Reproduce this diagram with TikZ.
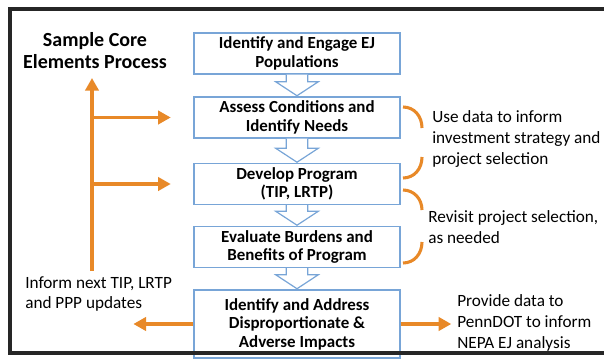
\documentclass[tikz,border=0pt]{standalone}
\usepackage{fontspec}
\setmainfont{Carlito}
\usetikzlibrary{positioning,calc,arrows.meta}
\definecolor{orng}{RGB}{232,137,40}
\definecolor{boxblue}{RGB}{120,165,215}

\begin{document}
\begin{tikzpicture}[x=0.75pt, y=-0.75pt,
    core/.style={draw=boxblue, line width=0.9pt, fill=white, align=center,
        font=\bfseries\fontsize{12.7}{13.8}\selectfont,
        minimum width=154.5pt, minimum height=30.75pt, inner sep=0pt},
    note/.style={anchor=west, align=left, inner sep=0pt,
        font=\fontsize{12.9}{15.5}\selectfont},
    feed/.style={orng, line width=2.3pt, -{Triangle[length=9.5pt,width=10pt]}},
    bracket/.style={orng, line width=2.3pt},
    chev/.style={draw=boxblue, line width=0.9pt, fill=white}]
    \useasboundingbox (0,0) rectangle (604,358);
    \clip (0,0) rectangle (604,358);

    \node[align=center, font=\bfseries\fontsize{15}{16.5}\selectfont] at (95,51) (title) {Sample Core\\Elements Process};

    \node[core] at (297,53.5) (engage) {Identify and Engage EJ\\Populations};
    \node[core] at (297,117.5) (assess) {Assess Conditions and\\Identify Needs};
    \node[core] at (297,184) (develop) {Develop Program\\(TIP, LRTP)};
    \node[core] at (297,247) (evaluate) {Evaluate Burdens and\\Benefits of Program};
    \node[core, minimum height=51pt] at (297,324) (impacts) {Identify and Address\\Disproportionate \&\\Adverse Impacts};

    \foreach \a/\b in {engage/assess, assess/develop, develop/evaluate, evaluate/impacts}
        \draw[chev] let \p1=(\a.south), \p2=(\b.north) in
            (\x1-8pt,\y1) -- (\x1-8pt,\y2+11pt) -- (\x1-16pt,\y2+11pt) -- (\x1,\y2+0.5pt)
            -- (\x1+16pt,\y2+11pt) -- (\x1+8pt,\y2+11pt) -- (\x1+8pt,\y1);

    % feedback to earlier steps
    \coordinate (fbbot) at (92,271);
    \coordinate (fbtop) at (92,78);
    \coordinate[left=17pt of assess] (tipA);
    \coordinate[left=17pt of develop] (tipB);
    \draw[feed] (fbbot) -- (fbtop);
    \draw[feed] (fbtop |- tipA) -- (tipA);
    \draw[feed] (fbtop |- tipB) -- (tipB);

    \coordinate[left=45pt of impacts] (tipL);
    \coordinate[right=38pt of impacts] (tipR);
    \draw[feed] (impacts.west) -- (tipL);
    \draw[feed] (impacts.east) -- (tipR);

    \draw[bracket] (403,107) .. controls (414,107) and (422,116) .. (422,128);
    \draw[bracket] (422,157) .. controls (422,169) and (414,178) .. (403,178);
    \draw[bracket] (403,190) .. controls (414,190) and (422,199) .. (422,210);
    \draw[bracket] (422,242) .. controls (422,254) and (414,263) .. (403,263);

    \node[note] at (432,139) (usedata) {Use data to inform\\investment strategy and\\project selection};
    \node[note] at (428,227) (revisit) {Revisit project selection,\\as needed};
    \node[note] at (25,294) (inform) {Inform next TIP, LRTP\\and PPP updates};
    \node[note] at (457,323) (provide) {Provide data to\\PennDOT to inform\\NEPA EJ analysis};

    \draw[line width=3pt, black!85] (10,9) rectangle (620,353);
\end{tikzpicture}
\end{document}
